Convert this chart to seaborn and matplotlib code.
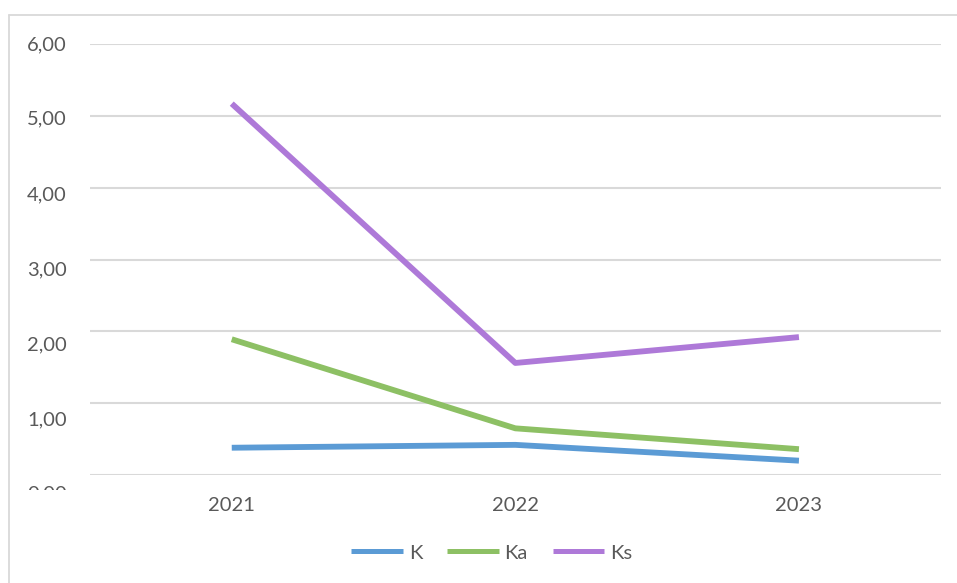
import pandas as pd
import matplotlib.pyplot as plt
import seaborn as sns
from matplotlib.lines import Line2D
from matplotlib.transforms import Bbox, blended_transform_factory

# Data
years = ["2021", "2022", "2023"]
k_vals = [0.38, 0.42, 0.20]
ka_vals = [1.89, 0.65, 0.36]
ks_vals = [5.17, 1.56, 1.92]
series_names = ["K", "Ka", "Ks"]
y_ticks = [0, 1, 2, 3, 4, 5, 6]
# in the original the axis labels drift slightly off their gridlines
y_label_pos = [-0.265, 0.773, 1.818, 2.862, 3.90, 4.958, 5.99]

colors = {"K": "#5B9BD5", "Ka": "#8DC064", "Ks": "#AE79D8"}
text_col = "#595959"

df = pd.DataFrame({
    "year": years * 3,
    "value": k_vals + ka_vals + ks_vals,
    "series": [s for s in series_names for _ in years],
})

sns.set_style("white")
plt.rcParams["font.family"] = ["Lato", "DejaVu Sans"]

fig = plt.figure(figsize=(9.57, 5.83), dpi=100)
ax = fig.add_axes([0.094, 0.1852, 0.889, 0.7393])

sns.lineplot(data=df, x="year", y="value", hue="series", palette=colors,
             linewidth=4.2, ax=ax, legend=False, sort=False)
for ln in ax.lines:
    ln.set_solid_capstyle("butt")

ax.set_xlim(-0.5, 2.5)
ax.set_ylim(0, 6)
for v in y_ticks:
    ax.axhline(v, color="#D9D9D9", linewidth=1.5, zorder=0)
ax.set_yticks([])
ax.set_xlabel("")
ax.set_ylabel("")
for s in ["top", "right", "left", "bottom"]:
    ax.spines[s].set_visible(False)
ax.tick_params(axis="x", length=0, labelsize=14.5, labelcolor=text_col, pad=16)

# y labels, placed by hand so the drift of the original is kept
trans = blended_transform_factory(fig.transFigure, ax.transData)
clip = Bbox.from_extents(0, 583 - 490, 957, 583)
for v, pos in zip(y_ticks, y_label_pos):
    t = fig.text(0.0700, pos, f"{v:.2f}".replace(".", ","), transform=trans,
                 ha="right", va="center", fontsize=14.5, color=text_col)
    t.set_clip_box(clip)
    t.set_clip_on(True)

# legend
handles = [Line2D([0], [0], color=colors[s], linewidth=3.6, solid_capstyle="butt")
           for s in series_names]
fig.legend(handles, series_names, loc="center", bbox_to_anchor=(0.514, 0.0515),
           ncol=3, frameon=False, fontsize=14.5, handlelength=2.55,
           columnspacing=1.25, handletextpad=0.3, labelcolor=text_col)

# outer chart frame
fig.add_artist(Line2D([0.0094, 0.0094], [0, 0.975], color="#D9D9D9", linewidth=1.3))
fig.add_artist(Line2D([0.0094, 1.0], [0.975, 0.975], color="#D9D9D9", linewidth=1.3))

fig.savefig("out.png", dpi=100, facecolor="white")
